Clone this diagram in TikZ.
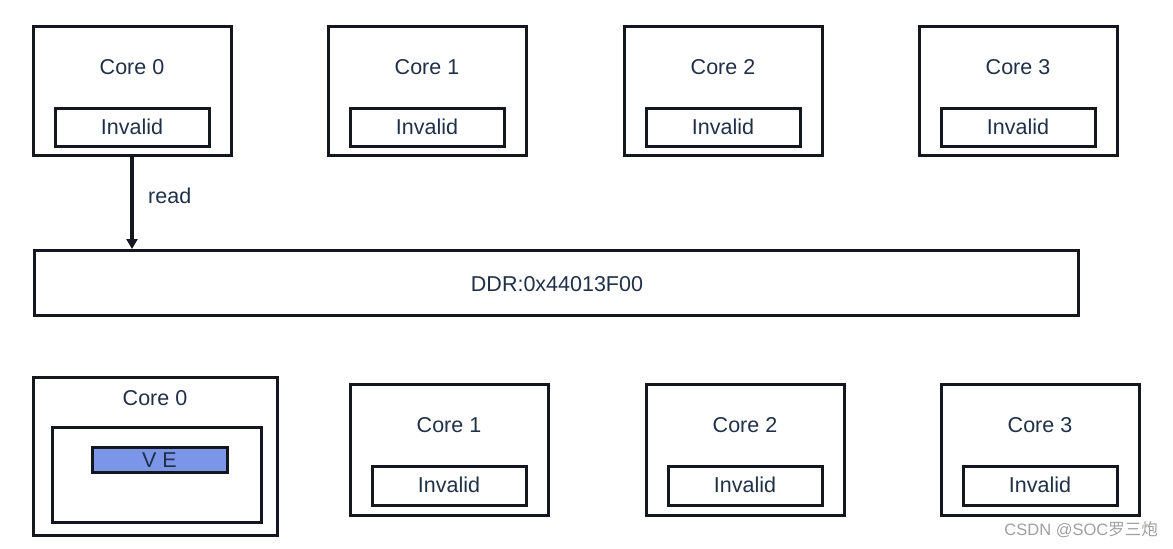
\documentclass[tikz,border=0pt]{standalone}
\usepackage{fontspec}
\setmainfont{Liberation Sans}
\newfontfamily\cjk{Noto Sans CJK SC}
\usetikzlibrary{arrows.meta}
\definecolor{txt}{HTML}{1F3047}
\definecolor{ln}{HTML}{15171E}
\definecolor{vefill}{HTML}{7B96E8}
\begin{document}
\begin{tikzpicture}[x=1pt,y=-1pt,
  box/.style={draw=ln,line width=3pt,fill=white},
  lbl/.style={text=txt,font=\fontsize{21.5}{24}\selectfont,inner sep=0pt},
  wm/.style={text=gray!75,font=\fontsize{16.5}{18}\selectfont,inner sep=0pt}]
\useasboundingbox (0,0) rectangle (1173,549);
% top row
\foreach \n/\x in {0/33,1/328,2/624,3/919}{
  \draw[box] (\x,26) rectangle ++(198,129);
  \draw[box] (\x+22,108) rectangle ++(154,38);
  \node[lbl] (tc\n) at (\x+99,67) {Core \n};
  \node[lbl] (ti\n) at (\x+99,127) {Invalid};
}
\coordinate (cbot) at (132,155);
\node[draw=ln,line width=3.2pt,minimum width=1044pt,minimum height=65pt,inner sep=0pt,anchor=north west] (ddr) at (33,249) {};
\node[lbl] (ddrt) at (557,284) {DDR:0x44013F00};
\draw[draw=ln,line width=3.4pt,-{Triangle[length=10pt,width=11pt]}] (cbot) -- (132,249);
\node[lbl,anchor=west] (read) at (148,196) {read};
% bottom row
\draw[box] (33,377) rectangle (277,535);
\draw[box] (52,427) rectangle (261,522);
\draw[draw=ln,line width=3pt,fill=vefill] (92,447) rectangle (227,472);
\node[lbl] (ve) at (159.5,460) {V E};
\node[lbl] (bc0) at (155,398) {Core 0};
\foreach \n/\x in {1/350,2/646,3/941}{
  \draw[box] (\x,384) rectangle ++(198,131);
  \draw[box] (\x+22,466) rectangle ++(154,39);
  \node[lbl] (bc\n) at (\x+99,425) {Core \n};
  \node[lbl] (bi\n) at (\x+99,485) {Invalid};
}
\node[wm,anchor=east] (wmk) at (1158,530) {CSDN @SOC{\cjk 罗三炮}};
\end{tikzpicture}
\end{document}
